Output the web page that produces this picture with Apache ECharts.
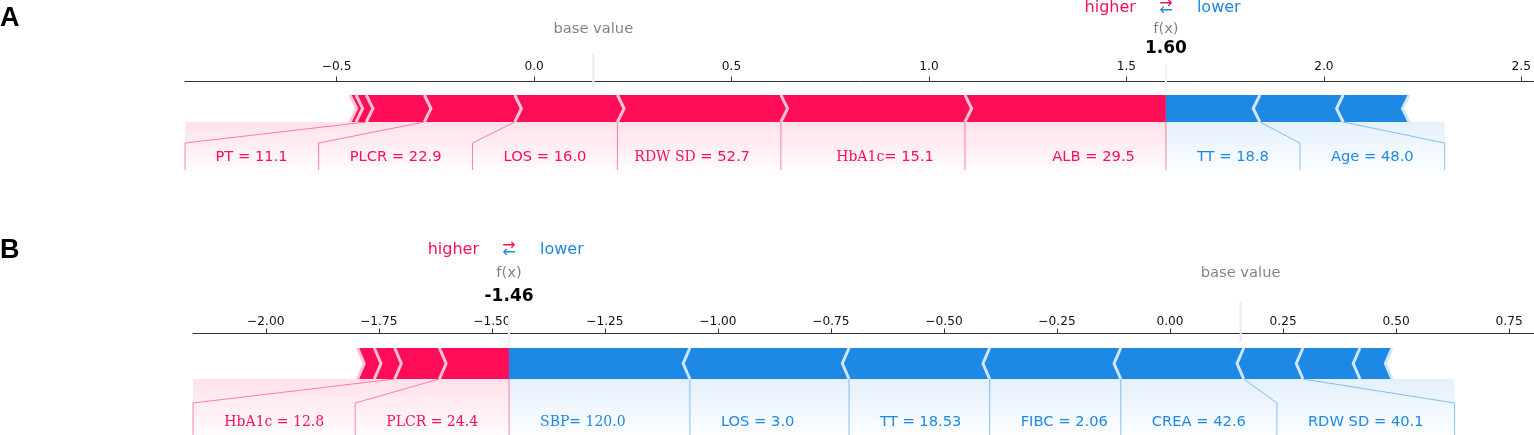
<!DOCTYPE html>
<html>
<head>
<meta charset="utf-8">
<script src="https://cdn.jsdelivr.net/npm/echarts@6/dist/echarts.min.js"></script>
<style>
  html, body { margin: 0; padding: 0; background: #fff; }
  #chart { width: 1534px; height: 435px; }
</style>
</head>
<body>
<div id="chart"></div>
<script>
// panel A : shap values, red ones first (largest next to f(x)), then blue ones
const labelsA = ['ALB = 29.5', 'HbA1c= 15.1', 'RDW SD = 52.7', 'LOS = 16.0', 'PLCR = 22.9', 'PT = 11.1', '', '',
                 'TT = 18.8', 'Age = 48.0', ''];
const shapA = [0.509, 0.466, 0.414, 0.260, 0.229, 0.147, 0.026, 0.015,
               -0.238, -0.211, -0.167];
const baseA = 0.150;
const ticksA = [-0.5, 0, 0.5, 1, 1.5, 2, 2.5];

// panel B
const labelsB = ['PLCR = 24.4', 'HbA1c = 12.8', '', '',
                 'SBP= 120.0', 'LOS = 3.0', 'TT = 18.53', 'FIBC = 2.06', 'CREA = 42.6', 'RDW SD = 40.1', '', ''];
const shapB = [0.154, 0.099, 0.045, 0.037,
               -0.400, -0.352, -0.311, -0.290, -0.272, -0.131, -0.126, -0.071];
const baseB = 0.156;
const ticksB = [-2, -1.75, -1.5, -1.25, -1, -0.75, -0.5, -0.25, 0, 0.25, 0.5, 0.75];

// labels that were retyped in a serif face in the figure
const serifA = { 'HbA1c= 15.1': 'head', 'RDW SD = 52.7': 'head' };
const serifB = { 'HbA1c = 12.8': 'all', 'PLCR = 24.4': 'all', 'SBP= 120.0': 'all' };

const RED = '#FF0D57', BLUE = '#1E88E5', RED_L = '#FFC3D5', BLUE_L = '#D1E6FA';
const SANS = '"DejaVu Sans"', SERIF = '"DejaVu Serif"';
const LABEL_PX = 14.7, OFF = 31, SEP = 6.7;

// vertical layout, pixels relative to the axis line
const layoutA = { top: 81, left: 185, min: -0.884, max: 2.532, dec: 1, margin: 8.5,
  legend: -73, fxLabel: -52, fxValue: -32, fxLineTop: -16, baseTop: -28, baseBot: 6,
  barTop: 14, barBot: 41, kink: 62, text: 76, bottom: 89, shade: 96 };
const layoutB = { top: 333, left: 193, min: -2.161, max: 0.805, dec: 2, margin: 5.5,
  legend: -83, fxLabel: -60, fxValue: -36, fxLineTop: -18, baseTop: -31, baseBot: 9,
  barTop: 15, barBot: 46, kink: 70, text: 89, bottom: 104, shade: 110 };

const ctx = document.createElement('canvas').getContext('2d');
function textWidth(t) {
  ctx.font = LABEL_PX + 'px ' + SANS;
  return ctx.measureText(t).width;
}

function build(shap, labels, base) {
  const fx = base + shap.reduce((a, b) => a + b, 0);
  const pos = [], neg = [];
  let p = fx, n = fx;
  shap.forEach((v, i) => {
    if (v > 0) { pos.push({ from: p, to: p - v, label: labels[i] }); p -= v; }
    else { neg.push({ from: n, to: n - v, label: labels[i] }); n -= v; }
  });
  return { fx, base, pos, neg };
}

const panelA = build(shapA, labelsA, baseA);
const panelB = build(shapB, labelsB, baseB);

function barData(panel) {
  const d = [];
  panel.pos.forEach((s, k) => d.push([s.from, s.to, 1, k]));
  panel.neg.forEach((s, k) => d.push([s.from, s.to, -1, k]));
  return d;
}

function renderBar(L) {
  return function (params, api) {
    const a = api.coord([api.value(0), 0])[0];
    const b = api.coord([api.value(1), 0])[0];
    const sign = api.value(2), first = api.value(3) === 0;
    const cs = params.coordSys;
    const top = cs.y + L.barTop, bot = cs.y + L.barBot, mid = (top + bot) / 2;
    const left = Math.min(a, b), right = Math.max(a, b);
    const s = sign * SEP;
    let pts;
    if (first) {
      pts = sign > 0
        ? [[left, bot], [right, bot], [right, top], [left, top], [left + s, mid]]
        : [[right, bot], [left, bot], [left, top], [right, top], [right + s, mid]];
    } else {
      pts = [[left, bot], [right, bot], [right + 0.9 * s, mid], [right, top], [left, top], [left + 0.9 * s, mid]];
    }
    const sx = sign > 0 ? left : right;
    return {
      type: 'group',
      children: [
        { type: 'polygon', z2: 1, shape: { points: pts }, style: { fill: sign > 0 ? RED : BLUE } },
        { type: 'polyline', z2: 10, shape: { points: [[sx, bot], [sx + s, mid], [sx, top]] },
          style: { stroke: sign > 0 ? RED_L : BLUE_L, lineWidth: 3, fill: null } }
      ]
    };
  };
}

function labelText(t, serif, color) {
  const mode = serif[t];
  const base = { fill: color, fontSize: LABEL_PX, fontFamily: SANS };
  if (!mode) return { text: t, ...base };
  if (mode === 'all') return { text: t, ...base, fontFamily: SERIF, fontSize: 14 };
  const i = t.indexOf('=');
  return {
    text: '{h|' + t.slice(0, i) + '}{t|' + t.slice(i) + '}',
    ...base,
    rich: {
      h: { fontFamily: SERIF, fontSize: 14, fill: color },
      t: { fontFamily: SANS, fontSize: LABEL_PX, fill: color }
    }
  };
}

function renderAnno(panel, L, serif) {
  return function (params, api) {
    const cs = params.coordSys;
    const px = v => api.coord([v, 0])[0];
    const y = o => cs.y + o;
    const fxp = px(panel.fx), basep = px(panel.base);
    const children = [];

    [[panel.pos, 1, RED, 'rgba(255,13,87,0.5)', 'rgba(255,13,87,'],
     [panel.neg, -1, BLUE, 'rgba(30,136,229,0.5)', 'rgba(30,136,229,']].forEach(([segs, sign, color, lineCol, rgba]) => {
      let startText = fxp, boxEnd = fxp;
      const lines = [];
      if (sign > 0) lines.push([[fxp, y(L.barBot)], [fxp, y(L.bottom)]]);
      for (const s of segs) {
        if (!s.label) break;
        const val = px(s.to);
        const edge = startText - sign * OFF;
        children.push({
          type: 'text', x: edge, y: y(L.text), z2: 5,
          style: { ...labelText(s.label, serif, color), align: sign > 0 ? 'right' : 'left', verticalAlign: 'middle' }
        });
        const far = edge - sign * textWidth(s.label);
        if (sign * far > sign * val) {
          lines.push([[val, y(L.barBot)], [val, y(L.bottom)]]);
          startText = boxEnd = val;
        } else {
          boxEnd = far - sign * OFF;
          boxEnd = sign > 0 ? Math.max(boxEnd, cs.x) : Math.min(boxEnd, cs.x + cs.width);
          lines.push([[val, y(L.barBot)], [boxEnd, y(L.kink)], [boxEnd, y(L.bottom)]]);
          startText = boxEnd;
        }
      }
      children.push({
        type: 'rect', z2: 0,
        shape: { x: Math.min(fxp, boxEnd), y: y(L.barBot), width: Math.abs(boxEnd - fxp), height: L.shade - L.barBot },
        style: { fill: new echarts.graphic.LinearGradient(0, 0, 0, 1, [
          { offset: 0, color: rgba + '0.12)' }, { offset: 1, color: rgba + '0)' }]) }
      });
      lines.forEach(pts => children.push({
        type: 'polyline', z2: 2, shape: { points: pts }, style: { stroke: lineCol, lineWidth: 1, fill: null }
      }));
    });

    // base value marker
    children.push({ type: 'line', z2: 3, shape: { x1: basep, y1: y(L.baseTop), x2: basep, y2: y(L.baseBot) },
      style: { stroke: '#EBEBEB', lineWidth: 2 } });
    children.push({ type: 'text', x: basep, y: y(L.fxLabel), z2: 5,
      style: { text: 'base value', fill: 'rgba(0,0,0,0.5)', fontSize: 14.7, fontFamily: SANS, align: 'center', verticalAlign: 'middle' } });

    // output value marker
    children.push({ type: 'line', z2: 20, shape: { x1: fxp, y1: y(L.fxLineTop), x2: fxp, y2: y(L.barBot) },
      style: { stroke: '#F2F2F2', lineWidth: 2 } });
    children.push({ type: 'text', x: fxp, y: y(L.fxLabel), z2: 5,
      style: { text: 'f(x)', fill: 'rgba(0,0,0,0.5)', fontSize: 14.7, fontFamily: SANS, align: 'center', verticalAlign: 'middle' } });
    children.push({ type: 'text', x: fxp, y: y(L.fxValue), z2: 25,
      style: { text: panel.fx.toFixed(2), fill: '#000', fontSize: 17, fontWeight: 'bold', fontFamily: SANS,
        align: 'center', verticalAlign: 'middle', backgroundColor: '#fff', padding: [0, 3] } });

    // higher / lower legend
    const lg = { fontSize: 16, fontFamily: SANS, verticalAlign: 'middle' };
    children.push({ type: 'text', x: fxp - 30, y: y(L.legend), style: { text: 'higher', fill: RED, align: 'right', ...lg } });
    children.push({ type: 'text', x: fxp + 31, y: y(L.legend), style: { text: 'lower', fill: BLUE, align: 'left', ...lg } });
    children.push({ type: 'text', x: fxp, y: y(L.legend - 4), style: { text: '\u2192', fill: RED, align: 'center', ...lg } });
    children.push({ type: 'text', x: fxp, y: y(L.legend + 3), style: { text: '\u2190', fill: BLUE, align: 'center', ...lg } });

    return { type: 'group', children };
  };
}

function xAxisFor(idx, L, ticks) {
  return {
    gridIndex: idx, type: 'value', position: 'top', min: L.min, max: L.max,
    axisLine: { show: true, onZero: false, lineStyle: { color: '#333', width: 1 } },
    axisTick: { show: true, inside: false, length: 4.5, customValues: ticks, lineStyle: { color: '#333' } },
    axisLabel: {
      customValues: ticks, margin: L.margin, color: '#111', fontSize: 12.2, fontFamily: SANS,
      formatter: v => (v < 0 ? '\u2212' : '') + Math.abs(v).toFixed(L.dec)
    },
    splitLine: { show: false }
  };
}

const chart = echarts.init(document.getElementById('chart'), null, { renderer: 'canvas' });
chart.setOption({
  animation: false,
  backgroundColor: '#fff',
  grid: [
    { left: layoutA.left, right: 0, top: layoutA.top, height: 100 },
    { left: layoutB.left, right: 0, top: layoutB.top, height: 100 }
  ],
  xAxis: [xAxisFor(0, layoutA, ticksA), xAxisFor(1, layoutB, ticksB)],
  yAxis: [
    { gridIndex: 0, type: 'value', min: 0, max: 1, show: false },
    { gridIndex: 1, type: 'value', min: 0, max: 1, show: false }
  ],
  graphic: [
    { type: 'text', left: 0, top: 5, style: { text: 'A', font: 'bold 27px "Liberation Sans"', fill: '#000' } },
    { type: 'text', left: 0, top: 237, style: { text: 'B', font: 'bold 27px "Liberation Sans"', fill: '#000' } }
  ],
  series: [
    { type: 'custom', xAxisIndex: 0, yAxisIndex: 0, data: [[panelA.fx, 0]], renderItem: renderAnno(panelA, layoutA, serifA), z: 1 },
    { type: 'custom', xAxisIndex: 0, yAxisIndex: 0, data: barData(panelA), renderItem: renderBar(layoutA), z: 2 },
    { type: 'custom', xAxisIndex: 1, yAxisIndex: 1, data: [[panelB.fx, 0]], renderItem: renderAnno(panelB, layoutB, serifB), z: 1 },
    { type: 'custom', xAxisIndex: 1, yAxisIndex: 1, data: barData(panelB), renderItem: renderBar(layoutB), z: 2 }
  ]
});
</script>
</body>
</html>
